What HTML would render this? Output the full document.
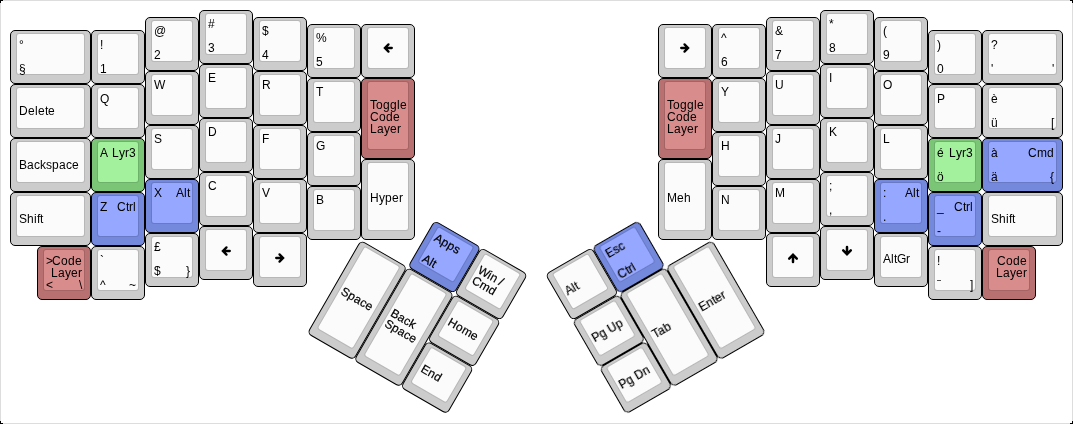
<!DOCTYPE html>
<html><head><meta charset="utf-8"><style>
*{box-sizing:border-box;margin:0;padding:0}
html,body{width:1073px;height:424px;background:#000;overflow:hidden}
#kbd{position:absolute;left:0;top:0;width:1073px;height:424px;background:#fff;border:1px solid #ddd}
#inner{position:absolute;left:9px;top:9px;width:1053px;height:400px;will-change:transform}
.rg{position:absolute;left:0;top:0;width:0;height:0}
.kb{position:absolute;border:1px solid #000;border-radius:5px}
.kt{position:absolute;border:1px solid rgba(0,0,0,0.1);border-radius:3px;background-clip:padding-box}
.lb{position:absolute;font-family:"Liberation Sans",sans-serif;font-size:12px;line-height:12px;color:#000;display:flex}
.tx{display:flex;flex-direction:column}
.ln{display:block;position:relative;height:12px;font-weight:normal}
.ln i{position:absolute;top:0;font-style:normal;line-height:12px;white-space:pre}
.lb.tl{align-items:flex-start;justify-content:flex-start}
.lb.tl .tx,.lb.bl .tx,.lb.cl .tx{align-items:flex-start}
.lb.tr{align-items:flex-start;justify-content:flex-end}
.lb.tr .tx,.lb.br .tx{align-items:flex-end}
.lb.bl{align-items:flex-end;justify-content:flex-start}
.lb.br{align-items:flex-end;justify-content:flex-end}
.lb.cl{align-items:center;justify-content:flex-start}
.lb.c{align-items:center;justify-content:center}
.lb.c .tx{align-items:center}
.ic{position:absolute}
.rg .ln i{-webkit-text-stroke:0.2px #000}

</style></head><body><div id="kbd"><div id="inner">
<div class="kb" style="left:189px;top:0px;width:54px;height:54px;background:#cccccc;border-color:#000000"></div>
<div class="kt" style="left:195px;top:3px;width:42px;height:42px;background-color:#fbfbfb"></div>
<div class="lb tl" style="left:198px;top:8.3px;width:36px;height:36px;"><span class="tx"><b class="ln" style="width:7px"><i style="left:0px">#</i></b></span></div>
<div class="lb bl" style="left:198px;top:8.3px;width:36px;height:36px;"><span class="tx"><b class="ln" style="width:7px"><i style="left:0px">3</i></b></span></div>
<div class="kb" style="left:135px;top:6.75px;width:54px;height:54px;background:#cccccc;border-color:#000000"></div>
<div class="kt" style="left:141px;top:9.75px;width:42px;height:42px;background-color:#fbfbfb"></div>
<div class="lb tl" style="left:144px;top:15.05px;width:36px;height:36px;"><span class="tx"><b class="ln" style="width:12px"><i style="left:0px">@</i></b></span></div>
<div class="lb bl" style="left:144px;top:15.05px;width:36px;height:36px;"><span class="tx"><b class="ln" style="width:7px"><i style="left:0px">2</i></b></span></div>
<div class="kb" style="left:243px;top:6.75px;width:54px;height:54px;background:#cccccc;border-color:#000000"></div>
<div class="kt" style="left:249px;top:9.75px;width:42px;height:42px;background-color:#fbfbfb"></div>
<div class="lb tl" style="left:252px;top:15.05px;width:36px;height:36px;"><span class="tx"><b class="ln" style="width:7px"><i style="left:0px">$</i></b></span></div>
<div class="lb bl" style="left:252px;top:15.05px;width:36px;height:36px;"><span class="tx"><b class="ln" style="width:7px"><i style="left:0px">4</i></b></span></div>
<div class="kb" style="left:297px;top:13.5px;width:54px;height:54px;background:#cccccc;border-color:#000000"></div>
<div class="kt" style="left:303px;top:16.5px;width:42px;height:42px;background-color:#fbfbfb"></div>
<div class="lb tl" style="left:306px;top:21.8px;width:36px;height:36px;"><span class="tx"><b class="ln" style="width:11px"><i style="left:0px">%</i></b></span></div>
<div class="lb bl" style="left:306px;top:21.8px;width:36px;height:36px;"><span class="tx"><b class="ln" style="width:7px"><i style="left:0px">5</i></b></span></div>
<div class="kb" style="left:351px;top:13.5px;width:54px;height:54px;background:#cccccc;border-color:#000000"></div>
<div class="kt" style="left:357px;top:16.5px;width:42px;height:42px;background-color:#fbfbfb"></div>
<div class="ic" style="left:368px;top:27.5px;width:20px;height:20px"><svg width="20" height="20" viewBox="0 0 20 20" style="position:absolute;left:0px;top:0.9px"><g transform="rotate(0 10 10)" fill="none" stroke="#000" stroke-width="2.3"><path d="M10.5 6.4 L6.9 10 L10.5 13.6 M7.2 10 H13.8" stroke-linecap="round" stroke-linejoin="miter"/></g></svg></div>
<div class="kb" style="left:0px;top:20.25px;width:81px;height:54px;background:#cccccc;border-color:#000000"></div>
<div class="kt" style="left:6px;top:23.25px;width:69px;height:42px;background-color:#fbfbfb"></div>
<div class="lb tl" style="left:9px;top:28.55px;width:63px;height:36px;"><span class="tx"><b class="ln" style="width:5px"><i style="left:0px">°</i></b></span></div>
<div class="lb bl" style="left:9px;top:28.55px;width:63px;height:36px;"><span class="tx"><b class="ln" style="width:7px"><i style="left:0px">§</i></b></span></div>
<div class="kb" style="left:81px;top:20.25px;width:54px;height:54px;background:#cccccc;border-color:#000000"></div>
<div class="kt" style="left:87px;top:23.25px;width:42px;height:42px;background-color:#fbfbfb"></div>
<div class="lb tl" style="left:90px;top:28.55px;width:36px;height:36px;"><span class="tx"><b class="ln" style="width:3px"><i style="left:0px">!</i></b></span></div>
<div class="lb bl" style="left:90px;top:28.55px;width:36px;height:36px;"><span class="tx"><b class="ln" style="width:7px"><i style="left:0px">1</i></b></span></div>
<div class="kb" style="left:189px;top:54px;width:54px;height:54px;background:#cccccc;border-color:#000000"></div>
<div class="kt" style="left:195px;top:57px;width:42px;height:42px;background-color:#fbfbfb"></div>
<div class="lb tl" style="left:198px;top:62.3px;width:36px;height:36px;"><span class="tx"><b class="ln" style="width:8px"><i style="left:0px">E</i></b></span></div>
<div class="kb" style="left:135px;top:60.75px;width:54px;height:54px;background:#cccccc;border-color:#000000"></div>
<div class="kt" style="left:141px;top:63.75px;width:42px;height:42px;background-color:#fbfbfb"></div>
<div class="lb tl" style="left:144px;top:69.05px;width:36px;height:36px;"><span class="tx"><b class="ln" style="width:11px"><i style="left:0px">W</i></b></span></div>
<div class="kb" style="left:243px;top:60.75px;width:54px;height:54px;background:#cccccc;border-color:#000000"></div>
<div class="kt" style="left:249px;top:63.75px;width:42px;height:42px;background-color:#fbfbfb"></div>
<div class="lb tl" style="left:252px;top:69.05px;width:36px;height:36px;"><span class="tx"><b class="ln" style="width:9px"><i style="left:0px">R</i></b></span></div>
<div class="kb" style="left:297px;top:67.5px;width:54px;height:54px;background:#cccccc;border-color:#000000"></div>
<div class="kt" style="left:303px;top:70.5px;width:42px;height:42px;background-color:#fbfbfb"></div>
<div class="lb tl" style="left:306px;top:75.8px;width:36px;height:36px;"><span class="tx"><b class="ln" style="width:7px"><i style="left:0px">T</i></b></span></div>
<div class="kb" style="left:351px;top:67.5px;width:54px;height:81px;background:#b87070;border-color:#000000"></div>
<div class="kt" style="left:357px;top:70.5px;width:42px;height:69px;background-color:#d88d8c"></div>
<div class="lb cl" style="left:360px;top:75.8px;width:36px;height:63px;"><span class="tx"><b class="ln" style="width:37px"><i style="left:0px">T</i><i style="left:6px">o</i><i style="left:13px">g</i><i style="left:20px">g</i><i style="left:27px">l</i><i style="left:30px">e</i></b><b class="ln" style="width:30px"><i style="left:0px">C</i><i style="left:9px">o</i><i style="left:16px">d</i><i style="left:23px">e</i></b><b class="ln" style="width:31px"><i style="left:0px">L</i><i style="left:7px">a</i><i style="left:14px">y</i><i style="left:20px">e</i><i style="left:27px">r</i></b></span></div>
<div class="kb" style="left:0px;top:74.25px;width:81px;height:54px;background:#cccccc;border-color:#000000"></div>
<div class="kt" style="left:6px;top:77.25px;width:69px;height:42px;background-color:#fbfbfb"></div>
<div class="lb cl" style="left:9px;top:82.55px;width:63px;height:36px;"><span class="tx"><b class="ln" style="width:36px"><i style="left:0px">D</i><i style="left:9px">e</i><i style="left:16px">l</i><i style="left:19px">e</i><i style="left:26px">t</i><i style="left:29px">e</i></b></span></div>
<div class="kb" style="left:81px;top:74.25px;width:54px;height:54px;background:#cccccc;border-color:#000000"></div>
<div class="kt" style="left:87px;top:77.25px;width:42px;height:42px;background-color:#fbfbfb"></div>
<div class="lb tl" style="left:90px;top:82.55px;width:36px;height:36px;"><span class="tx"><b class="ln" style="width:9px"><i style="left:0px">Q</i></b></span></div>
<div class="kb" style="left:189px;top:108px;width:54px;height:54px;background:#cccccc;border-color:#000000"></div>
<div class="kt" style="left:195px;top:111px;width:42px;height:42px;background-color:#fbfbfb"></div>
<div class="lb tl" style="left:198px;top:116.3px;width:36px;height:36px;"><span class="tx"><b class="ln" style="width:9px"><i style="left:0px">D</i></b></span></div>
<div class="kb" style="left:135px;top:114.75px;width:54px;height:54px;background:#cccccc;border-color:#000000"></div>
<div class="kt" style="left:141px;top:117.75px;width:42px;height:42px;background-color:#fbfbfb"></div>
<div class="lb tl" style="left:144px;top:123.05px;width:36px;height:36px;"><span class="tx"><b class="ln" style="width:8px"><i style="left:0px">S</i></b></span></div>
<div class="kb" style="left:243px;top:114.75px;width:54px;height:54px;background:#cccccc;border-color:#000000"></div>
<div class="kt" style="left:249px;top:117.75px;width:42px;height:42px;background-color:#fbfbfb"></div>
<div class="lb tl" style="left:252px;top:123.05px;width:36px;height:36px;"><span class="tx"><b class="ln" style="width:7px"><i style="left:0px">F</i></b></span></div>
<div class="kb" style="left:297px;top:121.5px;width:54px;height:54px;background:#cccccc;border-color:#000000"></div>
<div class="kt" style="left:303px;top:124.5px;width:42px;height:42px;background-color:#fbfbfb"></div>
<div class="lb tl" style="left:306px;top:129.8px;width:36px;height:36px;"><span class="tx"><b class="ln" style="width:9px"><i style="left:0px">G</i></b></span></div>
<div class="kb" style="left:0px;top:128.25px;width:81px;height:54px;background:#cccccc;border-color:#000000"></div>
<div class="kt" style="left:6px;top:131.25px;width:69px;height:42px;background-color:#fbfbfb"></div>
<div class="lb cl" style="left:9px;top:136.55px;width:63px;height:36px;"><span class="tx"><b class="ln" style="width:60px"><i style="left:0px">B</i><i style="left:8px">a</i><i style="left:15px">c</i><i style="left:21px">k</i><i style="left:27px">s</i><i style="left:33px">p</i><i style="left:40px">a</i><i style="left:47px">c</i><i style="left:53px">e</i></b></span></div>
<div class="kb" style="left:81px;top:128.25px;width:54px;height:54px;background:#7bc676;border-color:#000000"></div>
<div class="kt" style="left:87px;top:131.25px;width:42px;height:42px;background-color:#a3f09d"></div>
<div class="lb tl" style="left:90px;top:136.55px;width:36px;height:36px;"><span class="tx"><b class="ln" style="width:8px"><i style="left:0px">A</i></b></span></div>
<div class="lb tr" style="left:90px;top:136.55px;width:36px;height:36px;"><span class="tx"><b class="ln" style="width:24px"><i style="left:0px">L</i><i style="left:7px">y</i><i style="left:13px">r</i><i style="left:17px">3</i></b></span></div>
<div class="kb" style="left:351px;top:148.5px;width:54px;height:81px;background:#cccccc;border-color:#000000"></div>
<div class="kt" style="left:357px;top:151.5px;width:42px;height:69px;background-color:#fbfbfb"></div>
<div class="lb cl" style="left:360px;top:156.8px;width:36px;height:63px;"><span class="tx"><b class="ln" style="width:33px"><i style="left:0px">H</i><i style="left:9px">y</i><i style="left:15px">p</i><i style="left:22px">e</i><i style="left:29px">r</i></b></span></div>
<div class="kb" style="left:189px;top:162px;width:54px;height:54px;background:#cccccc;border-color:#000000"></div>
<div class="kt" style="left:195px;top:165px;width:42px;height:42px;background-color:#fbfbfb"></div>
<div class="lb tl" style="left:198px;top:170.3px;width:36px;height:36px;"><span class="tx"><b class="ln" style="width:9px"><i style="left:0px">C</i></b></span></div>
<div class="kb" style="left:135px;top:168.75px;width:54px;height:54px;background:#7488dc;border-color:#000000"></div>
<div class="kt" style="left:141px;top:171.75px;width:42px;height:42px;background-color:#95a7fe"></div>
<div class="lb tl" style="left:144px;top:177.05px;width:36px;height:36px;"><span class="tx"><b class="ln" style="width:8px"><i style="left:0px">X</i></b></span></div>
<div class="lb tr" style="left:144px;top:177.05px;width:36px;height:36px;"><span class="tx"><b class="ln" style="width:14px"><i style="left:0px">A</i><i style="left:8px">l</i><i style="left:11px">t</i></b></span></div>
<div class="kb" style="left:243px;top:168.75px;width:54px;height:54px;background:#cccccc;border-color:#000000"></div>
<div class="kt" style="left:249px;top:171.75px;width:42px;height:42px;background-color:#fbfbfb"></div>
<div class="lb tl" style="left:252px;top:177.05px;width:36px;height:36px;"><span class="tx"><b class="ln" style="width:8px"><i style="left:0px">V</i></b></span></div>
<div class="kb" style="left:297px;top:175.5px;width:54px;height:54px;background:#cccccc;border-color:#000000"></div>
<div class="kt" style="left:303px;top:178.5px;width:42px;height:42px;background-color:#fbfbfb"></div>
<div class="lb tl" style="left:306px;top:183.8px;width:36px;height:36px;"><span class="tx"><b class="ln" style="width:8px"><i style="left:0px">B</i></b></span></div>
<div class="kb" style="left:0px;top:182.25px;width:81px;height:54px;background:#cccccc;border-color:#000000"></div>
<div class="kt" style="left:6px;top:185.25px;width:69px;height:42px;background-color:#fbfbfb"></div>
<div class="lb cl" style="left:9px;top:190.55px;width:63px;height:36px;"><span class="tx"><b class="ln" style="width:24px"><i style="left:0px">S</i><i style="left:8px">h</i><i style="left:15px">i</i><i style="left:18px">f</i><i style="left:21px">t</i></b></span></div>
<div class="kb" style="left:81px;top:182.25px;width:54px;height:54px;background:#7488dc;border-color:#000000"></div>
<div class="kt" style="left:87px;top:185.25px;width:42px;height:42px;background-color:#95a7fe"></div>
<div class="lb tl" style="left:90px;top:190.55px;width:36px;height:36px;"><span class="tx"><b class="ln" style="width:7px"><i style="left:0px">Z</i></b></span></div>
<div class="lb tr" style="left:90px;top:190.55px;width:36px;height:36px;"><span class="tx"><b class="ln" style="width:19px"><i style="left:0px">C</i><i style="left:9px">t</i><i style="left:12px">r</i><i style="left:16px">l</i></b></span></div>
<div class="kb" style="left:189px;top:216px;width:54px;height:54px;background:#cccccc;border-color:#000000"></div>
<div class="kt" style="left:195px;top:219px;width:42px;height:42px;background-color:#fbfbfb"></div>
<div class="ic" style="left:206px;top:230px;width:20px;height:20px"><svg width="20" height="20" viewBox="0 0 20 20" style="position:absolute;left:0px;top:0.9px"><g transform="rotate(0 10 10)" fill="none" stroke="#000" stroke-width="2.3"><path d="M10.5 6.4 L6.9 10 L10.5 13.6 M7.2 10 H13.8" stroke-linecap="round" stroke-linejoin="miter"/></g></svg></div>
<div class="kb" style="left:135px;top:222.75px;width:54px;height:54px;background:#cccccc;border-color:#000000"></div>
<div class="kt" style="left:141px;top:225.75px;width:42px;height:42px;background-color:#fbfbfb"></div>
<div class="lb tl" style="left:144px;top:231.05px;width:36px;height:36px;"><span class="tx"><b class="ln" style="width:7px"><i style="left:0px">£</i></b></span></div>
<div class="lb bl" style="left:144px;top:231.05px;width:36px;height:36px;"><span class="tx"><b class="ln" style="width:7px"><i style="left:0px">$</i></b></span></div>
<div class="lb br" style="left:144px;top:231.05px;width:36px;height:36px;"><span class="tx"><b class="ln" style="width:4px"><i style="left:0px">}</i></b></span></div>
<div class="kb" style="left:243px;top:222.75px;width:54px;height:54px;background:#cccccc;border-color:#000000"></div>
<div class="kt" style="left:249px;top:225.75px;width:42px;height:42px;background-color:#fbfbfb"></div>
<div class="ic" style="left:260px;top:236.75px;width:20px;height:20px"><svg width="20" height="20" viewBox="0 0 20 20" style="position:absolute;left:0px;top:0.9px"><g transform="rotate(180 10 10)" fill="none" stroke="#000" stroke-width="2.3"><path d="M10.5 6.4 L6.9 10 L10.5 13.6 M7.2 10 H13.8" stroke-linecap="round" stroke-linejoin="miter"/></g></svg></div>
<div class="kb" style="left:27px;top:236.25px;width:54px;height:54px;background:#b87070;border-color:#000000"></div>
<div class="kt" style="left:33px;top:239.25px;width:42px;height:42px;background-color:#d88d8c"></div>
<div class="lb tl" style="left:36px;top:244.55px;width:36px;height:36px;"><span class="tx"><b class="ln" style="width:7px"><i style="left:0px">&gt;</i></b></span></div>
<div class="lb tr" style="left:36px;top:244.55px;width:36px;height:36px;"><span class="tx"><b class="ln" style="width:30px"><i style="left:0px">C</i><i style="left:9px">o</i><i style="left:16px">d</i><i style="left:23px">e</i></b><b class="ln" style="width:31px"><i style="left:0px">L</i><i style="left:7px">a</i><i style="left:14px">y</i><i style="left:20px">e</i><i style="left:27px">r</i></b></span></div>
<div class="lb bl" style="left:36px;top:244.55px;width:36px;height:36px;"><span class="tx"><b class="ln" style="width:7px"><i style="left:0px">&lt;</i></b></span></div>
<div class="lb br" style="left:36px;top:244.55px;width:36px;height:36px;"><span class="tx"><b class="ln" style="width:3px"><i style="left:0px">\</i></b></span></div>
<div class="kb" style="left:81px;top:236.25px;width:54px;height:54px;background:#cccccc;border-color:#000000"></div>
<div class="kt" style="left:87px;top:239.25px;width:42px;height:42px;background-color:#fbfbfb"></div>
<div class="lb tl" style="left:90px;top:244.55px;width:36px;height:36px;"><span class="tx"><b class="ln" style="width:4px"><i style="left:0px">`</i></b></span></div>
<div class="lb bl" style="left:90px;top:244.55px;width:36px;height:36px;"><span class="tx"><b class="ln" style="width:6px"><i style="left:0px">^</i></b></span></div>
<div class="lb br" style="left:90px;top:244.55px;width:36px;height:36px;"><span class="tx"><b class="ln" style="width:7px"><i style="left:0px">~</i></b></span></div>
<div class="kb" style="left:648px;top:13.5px;width:54px;height:54px;background:#cccccc;border-color:#000000"></div>
<div class="kt" style="left:654px;top:16.5px;width:42px;height:42px;background-color:#fbfbfb"></div>
<div class="ic" style="left:665px;top:27.5px;width:20px;height:20px"><svg width="20" height="20" viewBox="0 0 20 20" style="position:absolute;left:0px;top:0.9px"><g transform="rotate(180 10 10)" fill="none" stroke="#000" stroke-width="2.3"><path d="M10.5 6.4 L6.9 10 L10.5 13.6 M7.2 10 H13.8" stroke-linecap="round" stroke-linejoin="miter"/></g></svg></div>
<div class="kb" style="left:702px;top:13.5px;width:54px;height:54px;background:#cccccc;border-color:#000000"></div>
<div class="kt" style="left:708px;top:16.5px;width:42px;height:42px;background-color:#fbfbfb"></div>
<div class="lb tl" style="left:711px;top:21.8px;width:36px;height:36px;"><span class="tx"><b class="ln" style="width:6px"><i style="left:0px">^</i></b></span></div>
<div class="lb bl" style="left:711px;top:21.8px;width:36px;height:36px;"><span class="tx"><b class="ln" style="width:7px"><i style="left:0px">6</i></b></span></div>
<div class="kb" style="left:756px;top:6.75px;width:54px;height:54px;background:#cccccc;border-color:#000000"></div>
<div class="kt" style="left:762px;top:9.75px;width:42px;height:42px;background-color:#fbfbfb"></div>
<div class="lb tl" style="left:765px;top:15.05px;width:36px;height:36px;"><span class="tx"><b class="ln" style="width:8px"><i style="left:0px">&amp;</i></b></span></div>
<div class="lb bl" style="left:765px;top:15.05px;width:36px;height:36px;"><span class="tx"><b class="ln" style="width:7px"><i style="left:0px">7</i></b></span></div>
<div class="kb" style="left:810px;top:0px;width:54px;height:54px;background:#cccccc;border-color:#000000"></div>
<div class="kt" style="left:816px;top:3px;width:42px;height:42px;background-color:#fbfbfb"></div>
<div class="lb tl" style="left:819px;top:8.3px;width:36px;height:36px;"><span class="tx"><b class="ln" style="width:5px"><i style="left:0px">*</i></b></span></div>
<div class="lb bl" style="left:819px;top:8.3px;width:36px;height:36px;"><span class="tx"><b class="ln" style="width:7px"><i style="left:0px">8</i></b></span></div>
<div class="kb" style="left:864px;top:6.75px;width:54px;height:54px;background:#cccccc;border-color:#000000"></div>
<div class="kt" style="left:870px;top:9.75px;width:42px;height:42px;background-color:#fbfbfb"></div>
<div class="lb tl" style="left:873px;top:15.05px;width:36px;height:36px;"><span class="tx"><b class="ln" style="width:4px"><i style="left:0px">(</i></b></span></div>
<div class="lb bl" style="left:873px;top:15.05px;width:36px;height:36px;"><span class="tx"><b class="ln" style="width:7px"><i style="left:0px">9</i></b></span></div>
<div class="kb" style="left:918px;top:20.25px;width:54px;height:54px;background:#cccccc;border-color:#000000"></div>
<div class="kt" style="left:924px;top:23.25px;width:42px;height:42px;background-color:#fbfbfb"></div>
<div class="lb tl" style="left:927px;top:28.55px;width:36px;height:36px;"><span class="tx"><b class="ln" style="width:4px"><i style="left:0px">)</i></b></span></div>
<div class="lb bl" style="left:927px;top:28.55px;width:36px;height:36px;"><span class="tx"><b class="ln" style="width:7px"><i style="left:0px">0</i></b></span></div>
<div class="kb" style="left:972px;top:20.25px;width:81px;height:54px;background:#cccccc;border-color:#000000"></div>
<div class="kt" style="left:978px;top:23.25px;width:69px;height:42px;background-color:#fbfbfb"></div>
<div class="lb tl" style="left:981px;top:28.55px;width:63px;height:36px;"><span class="tx"><b class="ln" style="width:7px"><i style="left:0px">?</i></b></span></div>
<div class="lb bl" style="left:981px;top:28.55px;width:63px;height:36px;"><span class="tx"><b class="ln" style="width:2px"><i style="left:0px">&#x27;</i></b></span></div>
<div class="lb br" style="left:981px;top:28.55px;width:63px;height:36px;"><span class="tx"><b class="ln" style="width:2px"><i style="left:0px">&#x27;</i></b></span></div>
<div class="kb" style="left:648px;top:67.5px;width:54px;height:81px;background:#b87070;border-color:#000000"></div>
<div class="kt" style="left:654px;top:70.5px;width:42px;height:69px;background-color:#d88d8c"></div>
<div class="lb cl" style="left:657px;top:75.8px;width:36px;height:63px;"><span class="tx"><b class="ln" style="width:37px"><i style="left:0px">T</i><i style="left:6px">o</i><i style="left:13px">g</i><i style="left:20px">g</i><i style="left:27px">l</i><i style="left:30px">e</i></b><b class="ln" style="width:30px"><i style="left:0px">C</i><i style="left:9px">o</i><i style="left:16px">d</i><i style="left:23px">e</i></b><b class="ln" style="width:31px"><i style="left:0px">L</i><i style="left:7px">a</i><i style="left:14px">y</i><i style="left:20px">e</i><i style="left:27px">r</i></b></span></div>
<div class="kb" style="left:702px;top:67.5px;width:54px;height:54px;background:#cccccc;border-color:#000000"></div>
<div class="kt" style="left:708px;top:70.5px;width:42px;height:42px;background-color:#fbfbfb"></div>
<div class="lb tl" style="left:711px;top:75.8px;width:36px;height:36px;"><span class="tx"><b class="ln" style="width:8px"><i style="left:0px">Y</i></b></span></div>
<div class="kb" style="left:756px;top:60.75px;width:54px;height:54px;background:#cccccc;border-color:#000000"></div>
<div class="kt" style="left:762px;top:63.75px;width:42px;height:42px;background-color:#fbfbfb"></div>
<div class="lb tl" style="left:765px;top:69.05px;width:36px;height:36px;"><span class="tx"><b class="ln" style="width:9px"><i style="left:0px">U</i></b></span></div>
<div class="kb" style="left:810px;top:54px;width:54px;height:54px;background:#cccccc;border-color:#000000"></div>
<div class="kt" style="left:816px;top:57px;width:42px;height:42px;background-color:#fbfbfb"></div>
<div class="lb tl" style="left:819px;top:62.3px;width:36px;height:36px;"><span class="tx"><b class="ln" style="width:3px"><i style="left:0px">I</i></b></span></div>
<div class="kb" style="left:864px;top:60.75px;width:54px;height:54px;background:#cccccc;border-color:#000000"></div>
<div class="kt" style="left:870px;top:63.75px;width:42px;height:42px;background-color:#fbfbfb"></div>
<div class="lb tl" style="left:873px;top:69.05px;width:36px;height:36px;"><span class="tx"><b class="ln" style="width:9px"><i style="left:0px">O</i></b></span></div>
<div class="kb" style="left:918px;top:74.25px;width:54px;height:54px;background:#cccccc;border-color:#000000"></div>
<div class="kt" style="left:924px;top:77.25px;width:42px;height:42px;background-color:#fbfbfb"></div>
<div class="lb tl" style="left:927px;top:82.55px;width:36px;height:36px;"><span class="tx"><b class="ln" style="width:8px"><i style="left:0px">P</i></b></span></div>
<div class="kb" style="left:972px;top:74.25px;width:81px;height:54px;background:#cccccc;border-color:#000000"></div>
<div class="kt" style="left:978px;top:77.25px;width:69px;height:42px;background-color:#fbfbfb"></div>
<div class="lb tl" style="left:981px;top:82.55px;width:63px;height:36px;"><span class="tx"><b class="ln" style="width:7px"><i style="left:0px">è</i></b></span></div>
<div class="lb bl" style="left:981px;top:82.55px;width:63px;height:36px;"><span class="tx"><b class="ln" style="width:7px"><i style="left:0px">ü</i></b></span></div>
<div class="lb br" style="left:981px;top:82.55px;width:63px;height:36px;"><span class="tx"><b class="ln" style="width:3px"><i style="left:0px">[</i></b></span></div>
<div class="kb" style="left:648px;top:148.5px;width:54px;height:81px;background:#cccccc;border-color:#000000"></div>
<div class="kt" style="left:654px;top:151.5px;width:42px;height:69px;background-color:#fbfbfb"></div>
<div class="lb cl" style="left:657px;top:156.8px;width:36px;height:63px;"><span class="tx"><b class="ln" style="width:24px"><i style="left:0px">M</i><i style="left:10px">e</i><i style="left:17px">h</i></b></span></div>
<div class="kb" style="left:702px;top:121.5px;width:54px;height:54px;background:#cccccc;border-color:#000000"></div>
<div class="kt" style="left:708px;top:124.5px;width:42px;height:42px;background-color:#fbfbfb"></div>
<div class="lb tl" style="left:711px;top:129.8px;width:36px;height:36px;"><span class="tx"><b class="ln" style="width:9px"><i style="left:0px">H</i></b></span></div>
<div class="kb" style="left:756px;top:114.75px;width:54px;height:54px;background:#cccccc;border-color:#000000"></div>
<div class="kt" style="left:762px;top:117.75px;width:42px;height:42px;background-color:#fbfbfb"></div>
<div class="lb tl" style="left:765px;top:123.05px;width:36px;height:36px;"><span class="tx"><b class="ln" style="width:6px"><i style="left:0px">J</i></b></span></div>
<div class="kb" style="left:810px;top:108px;width:54px;height:54px;background:#cccccc;border-color:#000000"></div>
<div class="kt" style="left:816px;top:111px;width:42px;height:42px;background-color:#fbfbfb"></div>
<div class="lb tl" style="left:819px;top:116.3px;width:36px;height:36px;"><span class="tx"><b class="ln" style="width:8px"><i style="left:0px">K</i></b></span></div>
<div class="kb" style="left:864px;top:114.75px;width:54px;height:54px;background:#cccccc;border-color:#000000"></div>
<div class="kt" style="left:870px;top:117.75px;width:42px;height:42px;background-color:#fbfbfb"></div>
<div class="lb tl" style="left:873px;top:123.05px;width:36px;height:36px;"><span class="tx"><b class="ln" style="width:7px"><i style="left:0px">L</i></b></span></div>
<div class="kb" style="left:918px;top:128.25px;width:54px;height:54px;background:#7bc676;border-color:#000000"></div>
<div class="kt" style="left:924px;top:131.25px;width:42px;height:42px;background-color:#a3f09d"></div>
<div class="lb tl" style="left:927px;top:136.55px;width:36px;height:36px;"><span class="tx"><b class="ln" style="width:7px"><i style="left:0px">é</i></b></span></div>
<div class="lb tr" style="left:927px;top:136.55px;width:36px;height:36px;"><span class="tx"><b class="ln" style="width:24px"><i style="left:0px">L</i><i style="left:7px">y</i><i style="left:13px">r</i><i style="left:17px">3</i></b></span></div>
<div class="lb bl" style="left:927px;top:136.55px;width:36px;height:36px;"><span class="tx"><b class="ln" style="width:7px"><i style="left:0px">ö</i></b></span></div>
<div class="kb" style="left:972px;top:128.25px;width:81px;height:54px;background:#7488dc;border-color:#000000"></div>
<div class="kt" style="left:978px;top:131.25px;width:69px;height:42px;background-color:#95a7fe"></div>
<div class="lb tl" style="left:981px;top:136.55px;width:63px;height:36px;"><span class="tx"><b class="ln" style="width:7px"><i style="left:0px">à</i></b></span></div>
<div class="lb tr" style="left:981px;top:136.55px;width:63px;height:36px;"><span class="tx"><b class="ln" style="width:26px"><i style="left:0px">C</i><i style="left:9px">m</i><i style="left:19px">d</i></b></span></div>
<div class="lb bl" style="left:981px;top:136.55px;width:63px;height:36px;"><span class="tx"><b class="ln" style="width:7px"><i style="left:0px">ä</i></b></span></div>
<div class="lb br" style="left:981px;top:136.55px;width:63px;height:36px;"><span class="tx"><b class="ln" style="width:4px"><i style="left:0px">{</i></b></span></div>
<div class="kb" style="left:702px;top:175.5px;width:54px;height:54px;background:#cccccc;border-color:#000000"></div>
<div class="kt" style="left:708px;top:178.5px;width:42px;height:42px;background-color:#fbfbfb"></div>
<div class="lb tl" style="left:711px;top:183.8px;width:36px;height:36px;"><span class="tx"><b class="ln" style="width:9px"><i style="left:0px">N</i></b></span></div>
<div class="kb" style="left:756px;top:168.75px;width:54px;height:54px;background:#cccccc;border-color:#000000"></div>
<div class="kt" style="left:762px;top:171.75px;width:42px;height:42px;background-color:#fbfbfb"></div>
<div class="lb tl" style="left:765px;top:177.05px;width:36px;height:36px;"><span class="tx"><b class="ln" style="width:10px"><i style="left:0px">M</i></b></span></div>
<div class="kb" style="left:810px;top:162px;width:54px;height:54px;background:#cccccc;border-color:#000000"></div>
<div class="kt" style="left:816px;top:165px;width:42px;height:42px;background-color:#fbfbfb"></div>
<div class="lb tl" style="left:819px;top:170.3px;width:36px;height:36px;"><span class="tx"><b class="ln" style="width:3px"><i style="left:0px">;</i></b></span></div>
<div class="lb bl" style="left:819px;top:170.3px;width:36px;height:36px;"><span class="tx"><b class="ln" style="width:3px"><i style="left:0px">,</i></b></span></div>
<div class="kb" style="left:864px;top:168.75px;width:54px;height:54px;background:#7488dc;border-color:#000000"></div>
<div class="kt" style="left:870px;top:171.75px;width:42px;height:42px;background-color:#95a7fe"></div>
<div class="lb tl" style="left:873px;top:177.05px;width:36px;height:36px;"><span class="tx"><b class="ln" style="width:3px"><i style="left:0px">:</i></b></span></div>
<div class="lb tr" style="left:873px;top:177.05px;width:36px;height:36px;"><span class="tx"><b class="ln" style="width:14px"><i style="left:0px">A</i><i style="left:8px">l</i><i style="left:11px">t</i></b></span></div>
<div class="lb bl" style="left:873px;top:177.05px;width:36px;height:36px;"><span class="tx"><b class="ln" style="width:3px"><i style="left:0px">.</i></b></span></div>
<div class="kb" style="left:918px;top:182.25px;width:54px;height:54px;background:#7488dc;border-color:#000000"></div>
<div class="kt" style="left:924px;top:185.25px;width:42px;height:42px;background-color:#95a7fe"></div>
<div class="lb tl" style="left:927px;top:190.55px;width:36px;height:36px;"><span class="tx"><b class="ln" style="width:7px"><i style="left:0px">_</i></b></span></div>
<div class="lb tr" style="left:927px;top:190.55px;width:36px;height:36px;"><span class="tx"><b class="ln" style="width:19px"><i style="left:0px">C</i><i style="left:9px">t</i><i style="left:12px">r</i><i style="left:16px">l</i></b></span></div>
<div class="lb bl" style="left:927px;top:190.55px;width:36px;height:36px;"><span class="tx"><b class="ln" style="width:4px"><i style="left:0px">-</i></b></span></div>
<div class="kb" style="left:972px;top:182.25px;width:81px;height:54px;background:#cccccc;border-color:#000000"></div>
<div class="kt" style="left:978px;top:185.25px;width:69px;height:42px;background-color:#fbfbfb"></div>
<div class="lb cl" style="left:981px;top:190.55px;width:63px;height:36px;"><span class="tx"><b class="ln" style="width:24px"><i style="left:0px">S</i><i style="left:8px">h</i><i style="left:15px">i</i><i style="left:18px">f</i><i style="left:21px">t</i></b></span></div>
<div class="kb" style="left:756px;top:222.75px;width:54px;height:54px;background:#cccccc;border-color:#000000"></div>
<div class="kt" style="left:762px;top:225.75px;width:42px;height:42px;background-color:#fbfbfb"></div>
<div class="ic" style="left:773px;top:236.75px;width:20px;height:20px"><svg width="20" height="20" viewBox="0 0 20 20" style="position:absolute;left:0.3px;top:0.8px"><g transform="rotate(90 10 10)" fill="none" stroke="#000" stroke-width="2.5"><path d="M10.6 6.2 L6.8 10 L10.6 13.8 M7.2 10 H14.0" stroke-linecap="round" stroke-linejoin="miter"/></g></svg></div>
<div class="kb" style="left:810px;top:216px;width:54px;height:54px;background:#cccccc;border-color:#000000"></div>
<div class="kt" style="left:816px;top:219px;width:42px;height:42px;background-color:#fbfbfb"></div>
<div class="ic" style="left:827px;top:230px;width:20px;height:20px"><svg width="20" height="20" viewBox="0 0 20 20" style="position:absolute;left:0.3px;top:0.9px"><g transform="rotate(270 10 10)" fill="none" stroke="#000" stroke-width="2.5"><path d="M10.6 6.2 L6.8 10 L10.6 13.8 M7.2 10 H14.0" stroke-linecap="round" stroke-linejoin="miter"/></g></svg></div>
<div class="kb" style="left:864px;top:222.75px;width:54px;height:54px;background:#cccccc;border-color:#000000"></div>
<div class="kt" style="left:870px;top:225.75px;width:42px;height:42px;background-color:#fbfbfb"></div>
<div class="lb cl" style="left:873px;top:231.05px;width:36px;height:36px;"><span class="tx"><b class="ln" style="width:27px"><i style="left:0px">A</i><i style="left:8px">l</i><i style="left:11px">t</i><i style="left:14px">G</i><i style="left:23px">r</i></b></span></div>
<div class="kb" style="left:918px;top:236.25px;width:54px;height:54px;background:#cccccc;border-color:#000000"></div>
<div class="kt" style="left:924px;top:239.25px;width:42px;height:42px;background-color:#fbfbfb"></div>
<div class="lb tl" style="left:927px;top:244.55px;width:36px;height:36px;"><span class="tx"><b class="ln" style="width:3px"><i style="left:0px">!</i></b></span></div>
<div class="lb bl" style="left:927px;top:244.55px;width:36px;height:36px;"><span class="tx"><b class="ln" style="width:4px"><i style="left:0px;width:4px;height:12px"><s style="position:absolute;left:0;top:1.453125px;width:4px;height:1px;background:#555"></s></i></b></span></div>
<div class="lb br" style="left:927px;top:244.55px;width:36px;height:36px;"><span class="tx"><b class="ln" style="width:3px"><i style="left:0px">]</i></b></span></div>
<div class="kb" style="left:972px;top:236.25px;width:54px;height:54px;background:#b87070;border-color:#000000"></div>
<div class="kt" style="left:978px;top:239.25px;width:42px;height:42px;background-color:#d88d8c"></div>
<div class="lb tr" style="left:981px;top:244.55px;width:36px;height:36px;"><span class="tx"><b class="ln" style="width:30px"><i style="left:0px">C</i><i style="left:9px">o</i><i style="left:16px">d</i><i style="left:23px">e</i></b><b class="ln" style="width:31px"><i style="left:0px">L</i><i style="left:7px">a</i><i style="left:14px">y</i><i style="left:20px">e</i><i style="left:27px">r</i></b></span></div>
<div class="rg" style="transform-origin:351px 229.5px;transform:rotate(30deg)"><div class="kb" style="left:405px;top:175.5px;width:54px;height:54px;background:#7488dc;border-color:#000000"></div>
<div class="kt" style="left:411px;top:178.5px;width:42px;height:42px;background-color:#95a7fe"></div>
<div class="lb tl" style="left:414px;top:183.8px;width:36px;height:36px;"><span class="tx"><b class="ln" style="width:28px"><i style="left:0px">A</i><i style="left:8px">p</i><i style="left:15px">p</i><i style="left:22px">s</i></b></span></div>
<div class="lb bl" style="left:414px;top:183.8px;width:36px;height:36px;"><span class="tx"><b class="ln" style="width:14px"><i style="left:0px">A</i><i style="left:8px">l</i><i style="left:11px">t</i></b></span></div>
<div class="kb" style="left:459px;top:175.5px;width:54px;height:54px;background:#cccccc;border-color:#000000"></div>
<div class="kt" style="left:465px;top:178.5px;width:42px;height:42px;background-color:#fbfbfb"></div>
<div class="lb cl" style="left:468px;top:183.8px;width:36px;height:36px;"><span class="tx"><b class="ln" style="width:27px"><i style="left:0px">W</i><i style="left:11px">i</i><i style="left:14px">n</i><i style="left:24px">/</i></b><b class="ln" style="width:26px"><i style="left:0px">C</i><i style="left:9px">m</i><i style="left:19px">d</i></b></span></div>
<div class="kb" style="left:351px;top:229.5px;width:54px;height:108px;background:#cccccc;border-color:#000000"></div>
<div class="kt" style="left:357px;top:232.5px;width:42px;height:96px;background-color:#fbfbfb"></div>
<div class="lb cl" style="left:360px;top:237.8px;width:36px;height:90px;"><span class="tx"><b class="ln" style="width:35px"><i style="left:0px">S</i><i style="left:8px">p</i><i style="left:15px">a</i><i style="left:22px">c</i><i style="left:28px">e</i></b></span></div>
<div class="kb" style="left:405px;top:229.5px;width:54px;height:108px;background:#cccccc;border-color:#000000"></div>
<div class="kt" style="left:411px;top:232.5px;width:42px;height:96px;background-color:#fbfbfb"></div>
<div class="lb cl" style="left:414px;top:237.8px;width:36px;height:90px;"><span class="tx"><b class="ln" style="width:27px"><i style="left:0px">B</i><i style="left:8px">a</i><i style="left:15px">c</i><i style="left:21px">k</i></b><b class="ln" style="width:35px"><i style="left:0px">S</i><i style="left:8px">p</i><i style="left:15px">a</i><i style="left:22px">c</i><i style="left:28px">e</i></b></span></div>
<div class="kb" style="left:459px;top:229.5px;width:54px;height:54px;background:#cccccc;border-color:#000000"></div>
<div class="kt" style="left:465px;top:232.5px;width:42px;height:42px;background-color:#fbfbfb"></div>
<div class="lb cl" style="left:468px;top:237.8px;width:36px;height:36px;"><span class="tx"><b class="ln" style="width:33px"><i style="left:0px">H</i><i style="left:9px">o</i><i style="left:16px">m</i><i style="left:26px">e</i></b></span></div>
<div class="kb" style="left:459px;top:283.5px;width:54px;height:54px;background:#cccccc;border-color:#000000"></div>
<div class="kt" style="left:465px;top:286.5px;width:42px;height:42px;background-color:#fbfbfb"></div>
<div class="lb cl" style="left:468px;top:291.8px;width:36px;height:36px;"><span class="tx"><b class="ln" style="width:22px"><i style="left:0px">E</i><i style="left:8px">n</i><i style="left:15px">d</i></b></span></div></div>
<div class="rg" style="transform-origin:702px 229.5px;transform:rotate(-30deg)"><div class="kb" style="left:540px;top:175.5px;width:54px;height:54px;background:#cccccc;border-color:#000000"></div>
<div class="kt" style="left:546px;top:178.5px;width:42px;height:42px;background-color:#fbfbfb"></div>
<div class="lb cl" style="left:549px;top:183.8px;width:36px;height:36px;"><span class="tx"><b class="ln" style="width:14px"><i style="left:0px">A</i><i style="left:8px">l</i><i style="left:11px">t</i></b></span></div>
<div class="kb" style="left:594px;top:175.5px;width:54px;height:54px;background:#7488dc;border-color:#000000"></div>
<div class="kt" style="left:600px;top:178.5px;width:42px;height:42px;background-color:#95a7fe"></div>
<div class="lb tl" style="left:603px;top:183.8px;width:36px;height:36px;"><span class="tx"><b class="ln" style="width:20px"><i style="left:0px">E</i><i style="left:8px">s</i><i style="left:14px">c</i></b></span></div>
<div class="lb bl" style="left:603px;top:183.8px;width:36px;height:36px;"><span class="tx"><b class="ln" style="width:19px"><i style="left:0px">C</i><i style="left:9px">t</i><i style="left:12px">r</i><i style="left:16px">l</i></b></span></div>
<div class="kb" style="left:540px;top:229.5px;width:54px;height:54px;background:#cccccc;border-color:#000000"></div>
<div class="kt" style="left:546px;top:232.5px;width:42px;height:42px;background-color:#fbfbfb"></div>
<div class="lb cl" style="left:549px;top:237.8px;width:36px;height:36px;"><span class="tx"><b class="ln" style="width:34px"><i style="left:0px">P</i><i style="left:8px">g</i><i style="left:18px">U</i><i style="left:27px">p</i></b></span></div>
<div class="kb" style="left:594px;top:229.5px;width:54px;height:108px;background:#cccccc;border-color:#000000"></div>
<div class="kt" style="left:600px;top:232.5px;width:42px;height:96px;background-color:#fbfbfb"></div>
<div class="lb cl" style="left:603px;top:237.8px;width:36px;height:90px;"><span class="tx"><b class="ln" style="width:20px"><i style="left:0px">T</i><i style="left:6px">a</i><i style="left:13px">b</i></b></span></div>
<div class="kb" style="left:648px;top:229.5px;width:54px;height:108px;background:#cccccc;border-color:#000000"></div>
<div class="kt" style="left:654px;top:232.5px;width:42px;height:96px;background-color:#fbfbfb"></div>
<div class="lb cl" style="left:657px;top:237.8px;width:36px;height:90px;"><span class="tx"><b class="ln" style="width:29px"><i style="left:0px">E</i><i style="left:8px">n</i><i style="left:15px">t</i><i style="left:18px">e</i><i style="left:25px">r</i></b></span></div>
<div class="kb" style="left:540px;top:283.5px;width:54px;height:54px;background:#cccccc;border-color:#000000"></div>
<div class="kt" style="left:546px;top:286.5px;width:42px;height:42px;background-color:#fbfbfb"></div>
<div class="lb cl" style="left:549px;top:291.8px;width:36px;height:36px;"><span class="tx"><b class="ln" style="width:34px"><i style="left:0px">P</i><i style="left:8px">g</i><i style="left:18px">D</i><i style="left:27px">n</i></b></span></div></div>
</div></div><div style="position:absolute;left:0px;top:0px;width:3px;height:1px;background:#000"></div><div style="position:absolute;left:0px;top:1px;width:1px;height:2px;background:#000"></div><div style="position:absolute;left:1px;top:1px;width:1px;height:1px;background:#fff"></div><div style="position:absolute;left:1070px;top:0px;width:3px;height:1px;background:#000"></div><div style="position:absolute;left:1072px;top:1px;width:1px;height:2px;background:#000"></div><div style="position:absolute;left:1071px;top:1px;width:1px;height:1px;background:#fff"></div><div style="position:absolute;left:0px;top:423px;width:3px;height:1px;background:#000"></div><div style="position:absolute;left:0px;top:421px;width:1px;height:2px;background:#000"></div><div style="position:absolute;left:1px;top:422px;width:1px;height:1px;background:#fff"></div><div style="position:absolute;left:1070px;top:423px;width:3px;height:1px;background:#000"></div><div style="position:absolute;left:1072px;top:421px;width:1px;height:2px;background:#000"></div><div style="position:absolute;left:1071px;top:422px;width:1px;height:1px;background:#fff"></div></body></html>
